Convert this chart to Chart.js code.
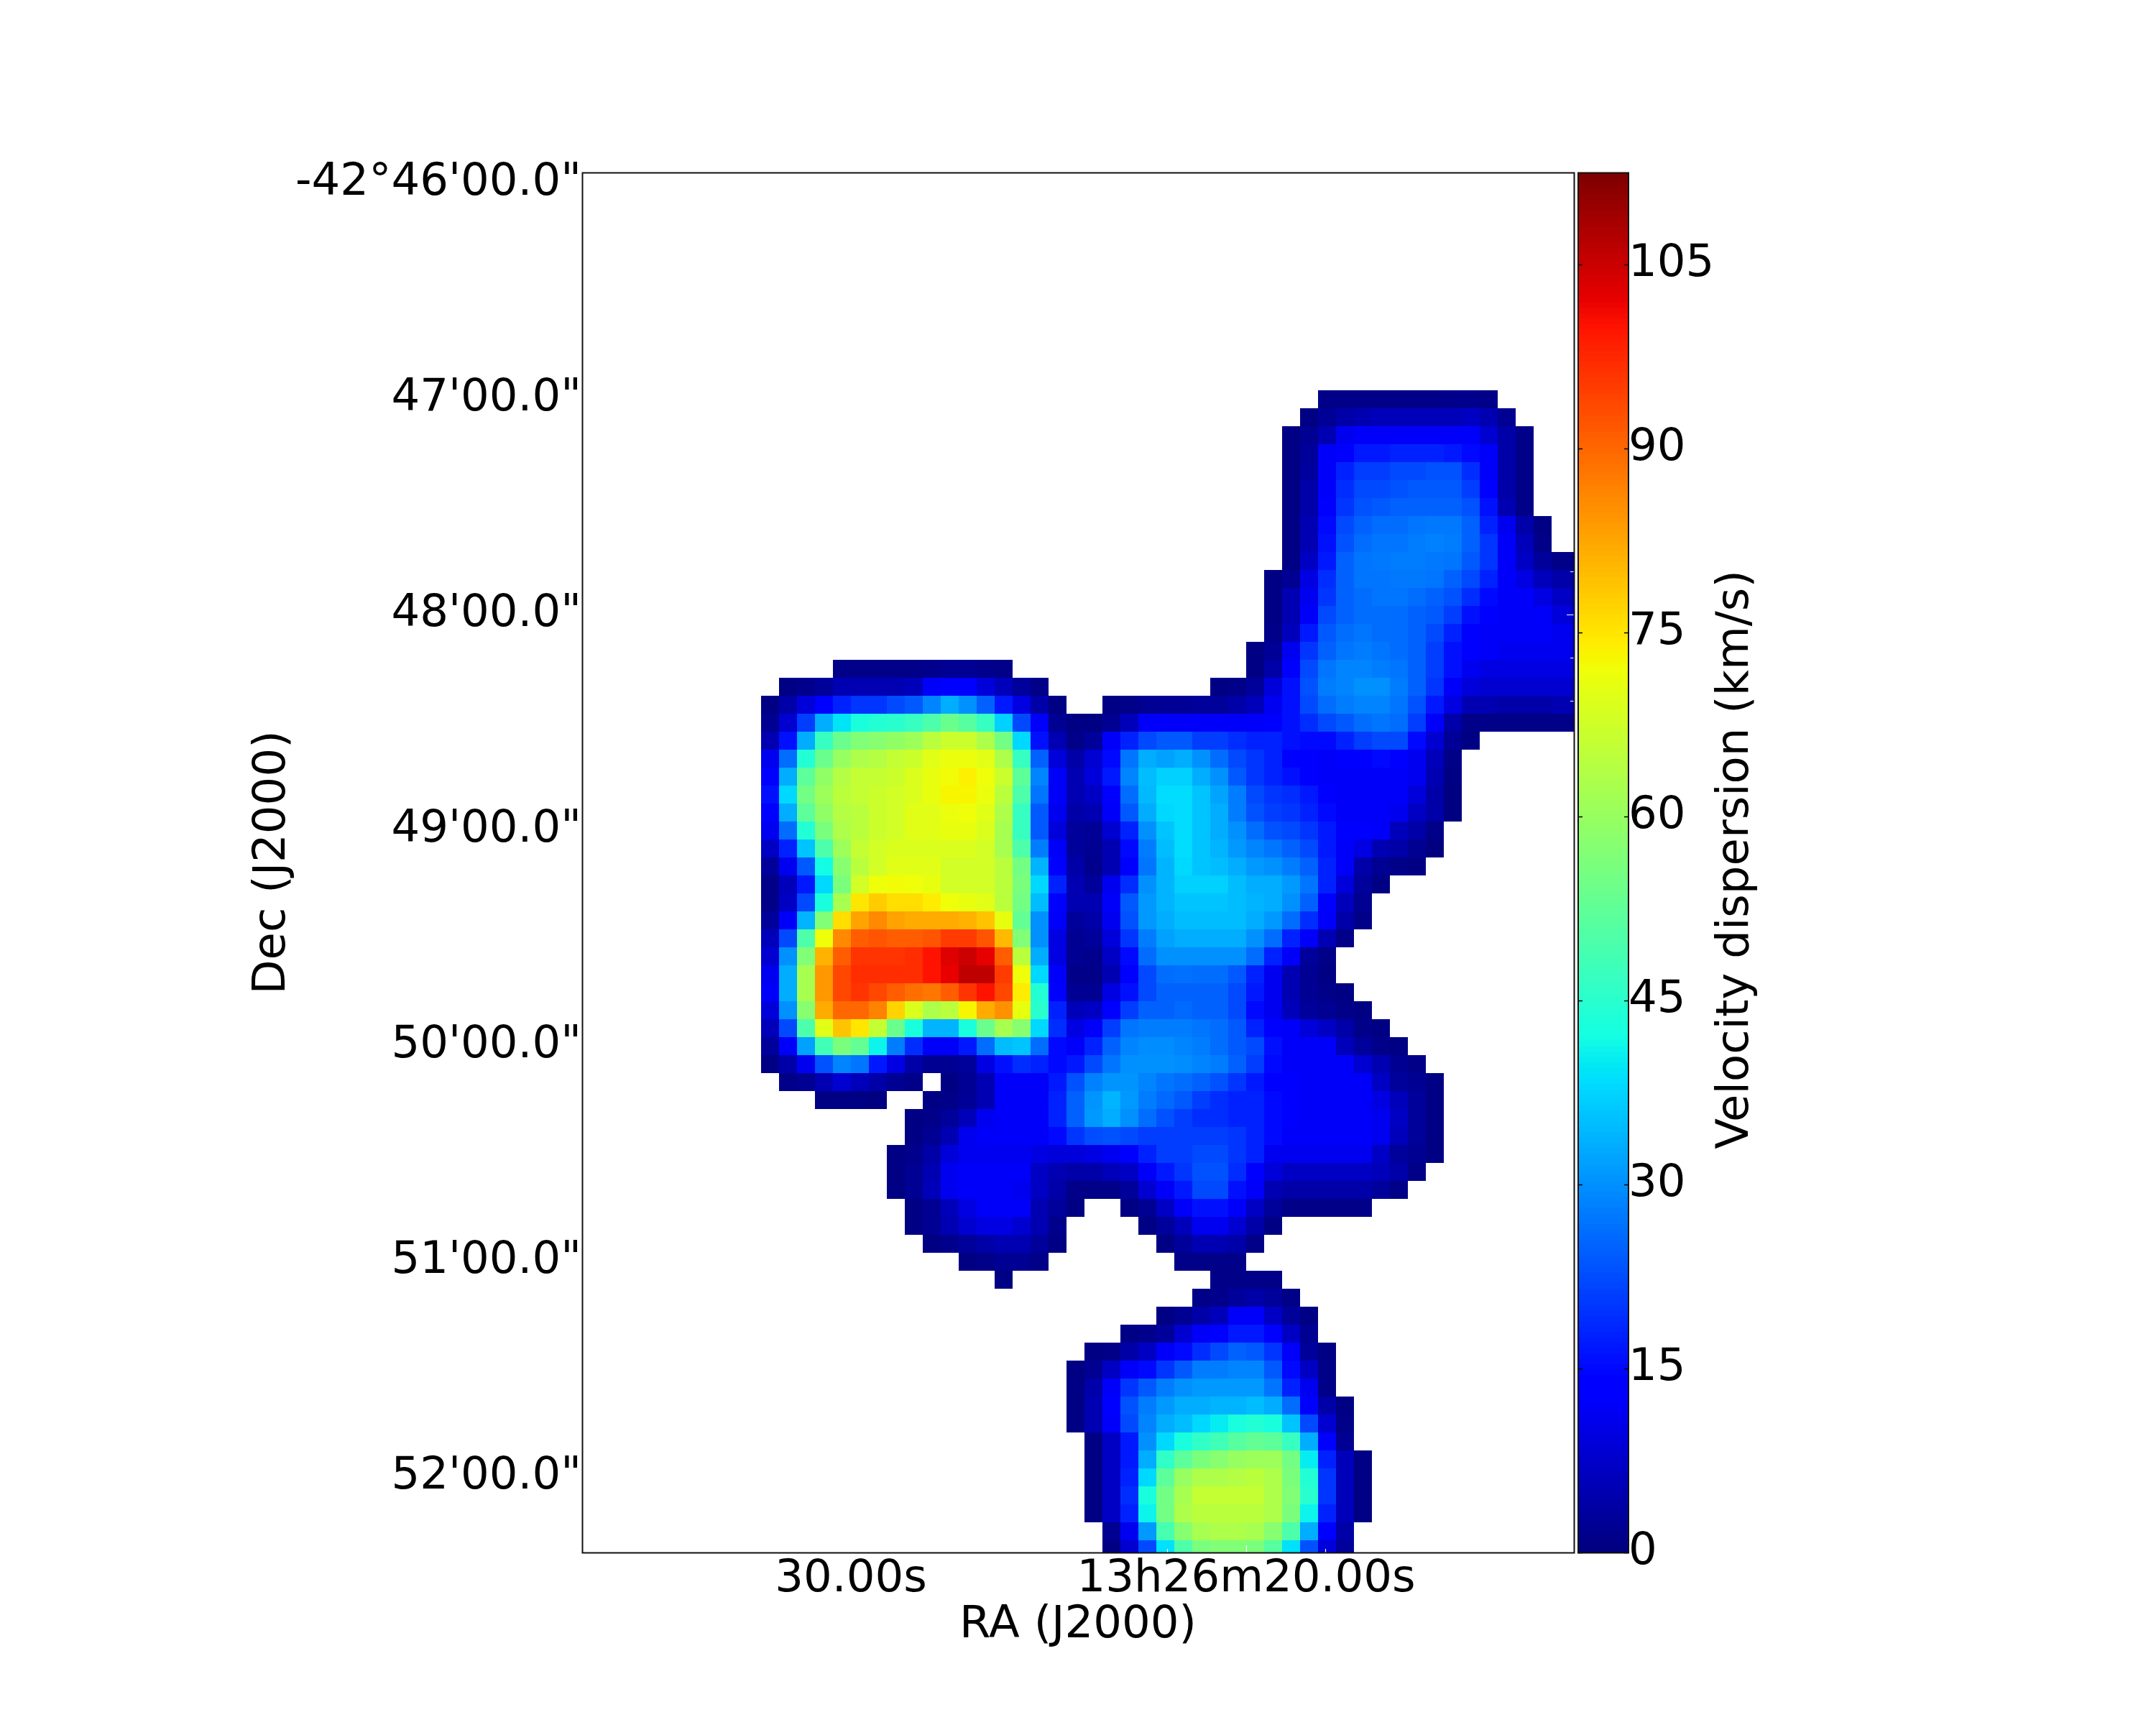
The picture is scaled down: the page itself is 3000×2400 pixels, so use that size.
<!DOCTYPE html>
<html>
<head>
<meta charset="utf-8">
<style>html,body{margin:0;padding:0;background:#fff}canvas{display:block}</style>
<script src="https://cdn.jsdelivr.net/npm/chart.js@4"></script>
</head>
<body>
<canvas id="c" width="3000" height="2400"></canvas>
<script>
// Tick labels and positions (in map-pixel units)
const raLabels = ['30.00s', '13h26m20.00s'];
const raTicks = [5, 27];
const decLabels = ['-42°46\'00.0"', '47\'00.0"', '48\'00.0"', '49\'00.0"', '50\'00.0"', '51\'00.0"', '52\'00.0"'];
const decTicks = [-11.52, 0.48, 12.48, 24.48, 36.48, 48.48, 60.48];
const raMinorTicks = [-8.2, -3.8, 0.6, 5, 9.4, 13.8, 18.2, 22.6, 27, 31.4, 35.8, 40.2, 44.6];
const decMinorTicks = [-11.52, -9.12, -6.72, -4.32, -1.92, 0.48, 2.88, 5.28, 7.68, 10.08, 12.48, 14.88, 17.28, 19.68, 22.08, 24.48, 26.88, 29.28, 31.68, 34.08, 36.48, 38.88, 41.28, 43.68, 46.08, 48.48, 50.88, 53.28, 55.68, 58.08, 60.48, 62.88];
const colorbarTicks = [0, 15, 30, 45, 60, 75, 90, 105];
const colorbarMax = 112.5;

// Velocity dispersion (km/s): one entry per map row, each a list of [first column, values]
const dispersionRows = [
/*0*/ [[31,[1,1,1,1,1,1,1,1.5,1.5,1]]],
/*1*/ [[30,[.5,2.5,4,5,6,6,6,6,6,7,5,2]]],
/*2*/ [[29,[.5,2,5,11,12,12,12,12,12,12,12,8,4,1]]],
/*3*/ [[29,[.5,3,12,14,17,17,18,18,18,17,15,12,4,1]]],
/*4*/ [[29,[.5,3.5,12,18,21,21,22,22,23,23,19,12,4,1]]],
/*5*/ [[29,[.5,4,12,19,22,22,23,24,24,24,21,13,4,1]]],
/*6*/ [[29,[.5,4,13,20,23,24,25,25,25,25,23,16,5,1]]],
/*7*/ [[29,[.5,5,15,22,25,26,26,27,27.5,27.5,25,18,11,4,.5]]],
/*8*/ [[29,[.5,5,16,23,26,27,27,28,28.5,28,25,20,12,6,1]]],
/*9*/ [[29,[.5,7,17,25,27,27.5,28,28,27.5,27,24,20,12,7,3,1,1]]],
/*10*/ [[28,[.5,2,10,19,25,27,27,27.5,27.5,27,25,22,18,12,10,6,4,4]]],
/*11*/ [[28,[.5,5,11,20,25,26,27,27,26,25,23,19,15,12,12,10,7,6]]],
/*12*/ [[28,[.5,5,12,22,25,26,26,26,25,24,21,16,13,12,12,12,9,8]]],
/*13*/ [[28,[1,6,17,24,26,27,26,26,25,22,18,14,12,12,12,12,11,10]]],
/*14*/ [[27,[.5,2.5,11,20,25,27,28,27,26,25,21,16,13,12,11,11,11,11,10]]],
/*15*/ [[4,[1,1,1,1,1,1.5,2,2,1.5,1]],[27,[.5,4,14,22,27,29,29,28,27,25,21,16,11,10,10,10,10,10,9]]],
/*16*/ [[1,[.5,1.5,3,5,5,5,5,6,12,12.5,12.5,9,6,3,1]],[25,[.5,1,3,9,16,23,28,29,30,30,28,25,20,12,9,8,8,8,8,8,7]]],
/*17*/ [[0,[.5,4,9,14,18,20,20,22,24,29,33,30,25,17,10,4,.5]],[19,[.5,1,2,2.5,2.5,3,3,4,6,11,16,22,26,28,29,29,27,23,17,10,5,5,4,4,4,5,5]]],
/*18*/ [[0,[2,8,21,33,39.5,43,44,45,47,50,54,51,47,37,22,12,2,.5,.5,2,6,12,12,12,12,12,12,12,14,16,19,22,24,26,27,26,21,12,4,1,1,1,1,1,1,1]]],
/*19*/ [[0,[5,16,33,47,54,57,58,59,61,65,67,67,63,55,38,16,5,1,3,12,18,22,24,24,21,21,19,18,18,16,15,15,18,21,22,22,15,8,2.5,.5]]],
/*20*/ [[0,[11,26,44,54,60,63,64,66,67,70,71.4,71.4,70,63,47,25,9,4,8,15,27,33,32,33,30,26,22,20,18,14,13,12,13,14,15,14,11,6,1]]],
/*21*/ [[0,[13,33,52,59,64,66,66,67,69,71,72.5,73.5,72,67,52,29,12,5,9,17,29,35,37,37,33,30,24,20,18,16,13,12,12,12,12,12,11,5,.5]]],
/*22*/ [[0,[16,38,55,61,65,66,67,68,69,71,73,73,71.5,65,50,27,12,5,7,14,26,34.5,38.5,38.5,36,32.5,28,22,20,19,17,14,12,12,12,12,9,4,.3]]],
/*23*/ [[0,[13,33,52,59,64,65,67,68,70,70,71.4,72,70,63,47,24,11,4,5,12,24,33,38,38.5,36,33,28,23,21,20,18,15,12,12,12,11,7,4,.3]]],
/*24*/ [[0,[11,26,44,56,63,65,67,68,70,70,71,71,69,62,47,24,9,3,2.5,8,18,30,36,38.5,36,33,30,26,23,22,20,17,14,13,12,6,4,1]]],
/*25*/ [[0,[7,18,36,50,61,66,68,69,69,69,69,69,68,62,50,28,12,3,2,5,15,28,35,38.5,36,34,31,29,27,25,22,17,12,10,5,4,2,.3]]],
/*26*/ [[0,[3,11,24,42,58,65,68,70,70,70,68,68,68,65,55,34,14,4,1.5,5,14,27,34,38,36,35,33,31,30,28,25,18,12,4,2,1,.5]]],
/*27*/ [[0,[1,6,17,38,56,68,72,72.5,72,71,68,68,68,65,56,38,18,5,3,11,19,30,34,37,37,37,35,33,33,31,27,18,9,3,.5]]],
/*28*/ [[0,[1,7,22,43,62,75,78,76,76,74,72,71,70,65,55,35,14,5,5,12,24,31,34,36,36,36,35,34,33,30,25,13,6,2]]],
/*29*/ [[0,[3,12,34,57,76,83,86,83,82,82,82,81,79,71,53,30,12,3,4,11,23,31,33,35,35,35,35,33,31,26,19,12,4,1]]],
/*30*/ [[0,[6,22,50,72,86,91,92,91,91,92,95,95,92,80,57,30,10,2,3,9,20,28,32,33,33,33,33,30,26,18,12,5,1]]],
/*31*/ [[0,[8,30,57,81,91,96,96,96,97,100,103,105,102,91,65,33,10,2,1.5,7,15,26,30,30,30,30,30,26,18,12,3,1]]],
/*32*/ [[0,[11,33,62,84,94,97,97,97,97,100,102,106,106,95,72,38,12,1,1,5,14,22,26,26.5,26,26,24,18,11,5,2,.5]]],
/*33*/ [[0,[12,33,62,84,94,96,94,91,89,88,91,96,100,94,74,44,14,2,2,10,16,22,25,25,25,25,22,17,11,5,2,1,.5]]],
/*34*/ [[0,[9,30,58,82,90,90,87,77,69,63,65,73,82,85,71,45,18,6,7,13,21,25,25,25.5,25,25,22,15,11,6,3,2,1,.5]]],
/*35*/ [[0,[6,22,50,70,79,75,66,54,43,34,34,43,54,62,58,38,19,10,12,21,27,28,28,28,27,26,24,18,13,12,9,7,4,1,.5]]],
/*36*/ [[0,[3,12,32,48,56,53,41,28,19,12,12,17,26,35,36,26,15,12,18,25,29,29.5,29.5,29,28,26,24,22,16,12,12,12,6,3,1,.5]]],
/*37*/ [[0,[.5,4,11,23,29,27,17,10,4,2,2,3,10,16,19,18,15,17,22,27,30,30,30,29.5,29,28,25,21,15,12,12,12,12,8,5,2,1]]],
/*38*/ [[1,[1,2,5,8,6,4,2,1]],[10,[.5,2,5,12,12,12,17,23,28.5,30.5,30.5,29,27,26,25,23,20,17,14,13,12,12,12,12,7,3,2,.5]]],
/*39*/ [[3,[.5,.5,.5,.3]],[9,[.5,1,2.5,5,12,12,12,18,25,30.5,34,31,28,25.5,24,21,19,18,18,15,13,12,12,12,12,10,6,3,.5]]],
/*40*/ [[8,[.5,1,3,6,11,12,12,12,18,25,31,33,30,26,23,21,19,19,18,18,15,13,12,12,12,12,11,7,3,.5]]],
/*41*/ [[8,[.5,2,5,11,12,12,12,12,15,20,22.5,23,22,21,21,21,21,21,20,18,15,12,12,12,12,12,11,6,3,.5]]],
/*42*/ [[7,[.5,1.5,4,9,11,11,11,11,10,9,9,10,11,14,18,21,21,22,22,20,18,11,11,11,11,11,11,7,3,2,.5]]],
/*43*/ [[7,[.5,2,5,11,12,12,12,12,7,5,4,4,6,7,12,17,20,23,23,19,13,9,7,7,7,7,7,6,4,1]]],
/*44*/ [[7,[.5,2,6,11,12,12,12,11,7,4,1,1,1,3,8,12,17,22,22,16,12,5,4,4,4,4,4,3,1]]],
/*45*/ [[8,[.5,2,6,10,12,12,12,5,3,.5]],[20,[.5,2,7,12,16,16,12,7,3,1,1,1,1,1]]],
/*46*/ [[8,[.5,2,5,8,10,10,8,5,1.5]],[21,[.5,3,6,11,11,8,4,.5]]],
/*47*/ [[9,[.5,1.5,3,4,5,5,3,.5]],[22,[.5,3,5,5,4,1]]],
/*48*/ [[11,[.5,1,2,2,1]],[23,[1,1,1,1]]],
/*49*/ [[13,[.8]],[25,[1,1,1,1]]],
/*50*/ [[24,[1,1.5,3,4,3,1]]],
/*51*/ [[22,[.5,2,4,6,12,12,7,3,.5]]],
/*52*/ [[20,[.5,1.5,3,8,12,14,17,17,13,7,2]]],
/*53*/ [[18,[.5,1,4,7,12,15,19,22,25,24,20,12,3,.5]]],
/*54*/ [[17,[.5,2,7,12,15,20,24,28,28,29,29,24,15,7,1]]],
/*55*/ [[17,[.5,4,12,20,24,28,30,31,31,31,31,27,18,11,1]]],
/*56*/ [[17,[.5,5,13,23,28,31,33,33,34,34,35,33,26,14,4,.5]]],
/*57*/ [[17,[.5,5,12,22,29,33,35,38,40,43,44,43,36,22,8,1]]],
/*58*/ [[18,[.5,7,17,30,38,43,46,48,51,53,52,47,33,14,2]]],
/*59*/ [[18,[.5,7,17,33,46,52,56,58,60,61,61,55,40,18,6,.5]]],
/*60*/ [[18,[.5,7,18,38,52,60,63,63,64,65,63,56,44,20,6,.5]]],
/*61*/ [[18,[.5,7,19,43,55,62,66,66,66,66,63,57,45,20,6,.5]]],
/*62*/ [[18,[.5,7,18,41,55,63,65,65,65,65,63,56,41,18,6,.5]]],
/*63*/ [[19,[2,11,31,49,58,62,63,63,62,58,50,33,13,4]]],
/*64*/ [[19,[.5,8,22,39,50,56,57,57,56,51,39,23,9,3]]]
];

const FONT = '"DejaVu Sans"';
const FS = 62.5;

function interp(t, pts) {
  for (let i = 1; i < pts.length; i++) {
    if (t <= pts[i][0]) {
      const a = pts[i - 1], b = pts[i];
      return a[1] + (b[1] - a[1]) * (t - a[0]) / (b[0] - a[0]);
    }
  }
  return pts[pts.length - 1][1];
}
const JR = [[0,0],[.35,0],[.66,1],[.89,1],[1,.5]];
const JG = [[0,0],[.125,0],[.375,1],[.64,1],[.91,0],[1,0]];
const JB = [[0,.5],[.11,1],[.34,1],[.65,0],[1,0]];
function jet(v) {
  const t = Math.max(0, Math.min(1, v / colorbarMax));
  const q = Math.min(255, Math.floor(t * 256)) / 255;
  return 'rgb(' + Math.round(interp(q, JR) * 255) + ',' + Math.round(interp(q, JG) * 255) + ',' + Math.round(interp(q, JB) * 255) + ')';
}

const cells = [];
dispersionRows.forEach((segs, r) => segs.forEach(([start, vals]) => vals.forEach((v, i) => {
  cells.push({ x: start + i + 0.5, y: r + 0.5, v });
})));

const frame = {
  id: 'frame',
  afterDraw(chart) {
    const { ctx, chartArea: a, scales } = chart;
    const { x, y, cb } = scales;
    ctx.save();
    // colour bar
    const barL = a.right + 6, barW = 70;
    for (let i = 0; i < 256; i++) {
      const v0 = colorbarMax * i / 256, v1 = colorbarMax * (i + 1) / 256;
      const top = cb.getPixelForValue(v1), bot = cb.getPixelForValue(v0);
      ctx.fillStyle = jet((v0 + v1) / 2);
      ctx.fillRect(barL, top, barW, bot - top + 0.6);
    }
    ctx.strokeStyle = '#000';
    ctx.lineWidth = 1.5;
    colorbarTicks.forEach(t => {
      const p = Math.round(cb.getPixelForValue(t)) + 0.5;
      ctx.beginPath();
      ctx.moveTo(barL, p); ctx.lineTo(barL + 6, p);
      ctx.moveTo(barL + barW, p); ctx.lineTo(barL + barW - 6, p);
      ctx.stroke();
    });
    // white inward ticks, under the frame
    ctx.strokeStyle = '#fff';
    ctx.lineWidth = 1.2;
    raMinorTicks.forEach(t => {
      const p = Math.round(x.getPixelForValue(t)) + 0.5;
      const len = raTicks.includes(t) ? 10 : 5;
      ctx.beginPath();
      ctx.moveTo(p, a.bottom); ctx.lineTo(p, a.bottom - len);
      ctx.moveTo(p, a.top); ctx.lineTo(p, a.top + len);
      ctx.stroke();
    });
    decMinorTicks.forEach(t => {
      const p = Math.round(y.getPixelForValue(t)) + 0.5;
      const len = decTicks.includes(t) ? 10 : 5;
      ctx.beginPath();
      ctx.moveTo(a.left, p); ctx.lineTo(a.left + len, p);
      ctx.moveTo(a.right, p); ctx.lineTo(a.right - len, p);
      ctx.stroke();
    });
    ctx.lineWidth = 2;
    ctx.strokeStyle = '#111';
    ctx.strokeRect(barL, a.top + 0.5, barW, a.bottom - a.top);
    // map frame
    ctx.strokeRect(a.left + 0.5, a.top + 0.5, a.right - a.left, a.bottom - a.top);
    // colour-bar label
    ctx.translate(2416, 1196);
    ctx.rotate(-Math.PI / 2);
    ctx.fillStyle = '#000';
    ctx.font = FS + 'px ' + FONT;
    ctx.textAlign = 'center';
    ctx.textBaseline = 'middle';
    ctx.fillText('Velocity dispersion (km/s)', 0, 0);
    ctx.restore();
  }
};

new Chart(document.getElementById('c'), {
  type: 'scatter',
  data: {
    datasets: [{
      label: 'Velocity dispersion (km/s)',
      data: cells,
      pointStyle: 'rect',
      pointRadius: 25 * Math.SQRT1_2 * 1,
      pointHoverRadius: 25 * Math.SQRT1_2,
      pointBorderWidth: 0,
      borderWidth: 0,
      clip: 0,
      backgroundColor: ctx => jet(ctx.raw ? ctx.raw.v : 0),
      pointBackgroundColor: ctx => jet(ctx.raw ? ctx.raw.v : 0)
    }]
  },
  options: {
    responsive: false,
    animation: false,
    devicePixelRatio: 1,
    events: [],
    layout: { padding: { top: 240, left: 0, right: 0, bottom: 0 } },
    plugins: { legend: { display: false }, tooltip: { enabled: false } },
    scales: {
      x: {
        type: 'linear', position: 'bottom', min: -9.96, max: 45.24,
        grid: { display: false, drawTicks: false }, border: { display: false },
        afterBuildTicks: s => { s.ticks = raTicks.map(value => ({ value })); },
        afterFit: s => { s.height = 240; },
        ticks: {
          autoSkip: false, maxRotation: 0, padding: 0, color: '#000',
          font: { family: FONT, size: FS },
          callback: (v, i) => raLabels[i]
        },
        title: { display: true, text: 'RA (J2000)', color: '#000', font: { family: FONT, size: FS }, padding: { top: 0, bottom: 101 } }
      },
      y: {
        type: 'linear', position: 'left', reverse: true, min: -12.12, max: 64.68,
        grid: { display: false, drawTicks: false }, border: { display: false },
        afterBuildTicks: s => { s.ticks = decTicks.map(value => ({ value })); },
        afterFit: s => { s.width = 810; },
        ticks: {
          autoSkip: false, maxRotation: 0, padding: 1, color: '#000',
          font: { family: FONT, size: FS },
          callback: (v, i) => decLabels[i]
        },
        title: { display: true, text: 'Dec (J2000)', color: '#000', font: { family: FONT, size: FS }, padding: { top: 342, bottom: 0 } }
      },
      cb: {
        type: 'linear', position: 'right', min: 0, max: colorbarMax,
        grid: { display: false, drawTicks: false }, border: { display: false },
        afterBuildTicks: s => { s.ticks = colorbarTicks.map(value => ({ value })); },
        afterFit: s => { s.width = 810; },
        ticks: {
          autoSkip: false, maxRotation: 0, padding: 76, color: '#000',
          font: { family: FONT, size: FS }
        }
      }
    }
  },
  plugins: [frame]
});
</script>
</body>
</html>
